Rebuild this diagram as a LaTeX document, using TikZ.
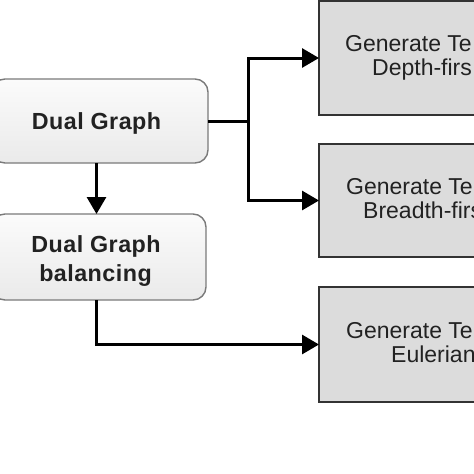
\documentclass[tikz,border=0pt]{standalone}
\usepackage{fontspec}
\setmainfont{Liberation Sans}
\newfontfamily\spacedsans[LetterSpace=2]{Liberation Sans}
\usetikzlibrary{arrows.meta}
\definecolor{leftborder}{HTML}{7A7A7A}
\definecolor{lefttop}{HTML}{FBFBFB}
\definecolor{leftbot}{HTML}{EAEAEA}
\definecolor{rightfill}{HTML}{DCDCDC}
\definecolor{rightborder}{HTML}{333333}
\definecolor{txt}{HTML}{222222}
\tikzset{
  leftbox/.style={draw=leftborder, line width=1.4pt, rounded corners=13pt,
    top color=lefttop, bottom color=leftbot, rectangle, outer sep=0pt, inner sep=0pt},
  rightbox/.style={draw=rightborder, line width=1.6pt, fill=rightfill,
    rectangle, outer sep=0pt, inner sep=0pt, minimum width=301pt},
  lefttext/.style={inner sep=0pt, text=txt, anchor=base, font=\spacedsans\bfseries\fontsize{23.3}{30}\selectfont},
  righttext/.style={inner sep=0pt, text=txt, anchor=base west, font=\fontsize{23}{24}\selectfont},
  conn/.style={line width=3pt, black},
  arr/.style={conn, -{Triangle[length=17pt,width=19pt]}}
}
\begin{document}
\begin{tikzpicture}[x=1pt,y=-1pt]
\useasboundingbox (0,0) rectangle (474,474);
\clip (0,0) rectangle (474,474);
\fill[white] (0,0) rectangle (474,474);
% left boxes
\node[leftbox, minimum width=216pt, minimum height=84pt] (b1) at (100,121) {};
\node[leftbox, minimum width=214pt, minimum height=86pt] (b2) at (99,257) {};
\node[lefttext] (dg1) at (96.5,129.5) {Dual Graph};
\node[lefttext] (dg2) at (96,252.5) {Dual Graph};
\node[lefttext] (bal) at (95.5,281) {balancing};
% right boxes
\node[rightbox, minimum height=114pt] (r1) at (469.5,58) {};
\node[rightbox, minimum height=113pt] (r2) at (469.5,200.5) {};
\node[rightbox, minimum height=115pt] (r3) at (469.5,344.5) {};
\node[righttext] (t1a) at (345,51.7) {Generate Te};
\node[righttext] (t1b) at (372,75) {Depth-firs};
\node[righttext] (t2a) at (346,194.7) {Generate Te};
\node[righttext] (t2b) at (363,218.5) {Breadth-firs};
\node[righttext] (t3a) at (346,338.5) {Generate Te};
\node[righttext] (t3b) at (391,362) {Eulerian};
% connectors
\coordinate (j) at (248,121);
\draw[conn] (b1.east) -- (j);
\draw[arr] (j) |- (r1.west);
\draw[arr] (j) |- (r2.west);
\draw[arr] (b1.south -| dg1) -- (b2.north -| dg1);
\draw[arr] (b2.south -| dg1) |- (r3.west);
\end{tikzpicture}
\end{document}
